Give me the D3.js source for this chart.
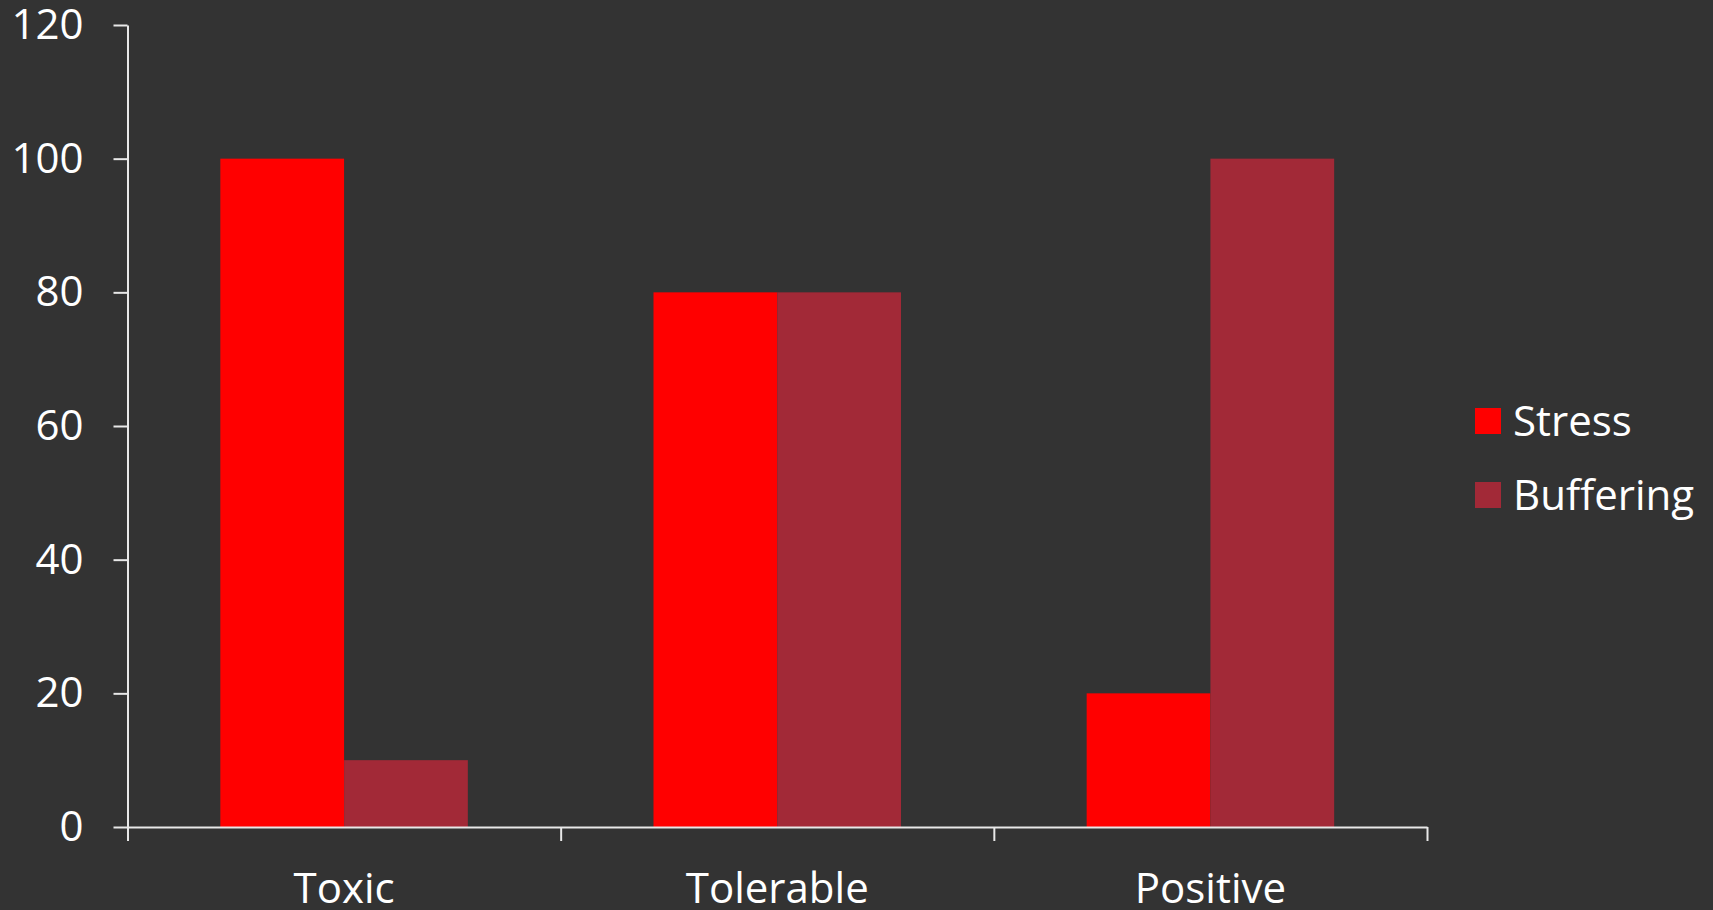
<!DOCTYPE html>
<html>
<head>
<meta charset="utf-8">
<script src="https://cdn.jsdelivr.net/npm/d3@7"></script>
<style>
  html, body { margin: 0; padding: 0; background: #333333; }
  svg { display: block; }
  text { font-family: "Open Sans", sans-serif; fill: #ffffff; }
</style>
</head>
<body>
<div id="chart"></div>
<script>
let categories = ["Toxic", "Tolerable", "Positive"];
let seriesNames = ["Stress", "Buffering"];
let stressValues = [100, 80, 20];
let bufferingValues = [10, 80, 100];
let yTicks = [0, 20, 40, 60, 80, 100, 120];

let width = 1713,
    height = 910,
    plotLeft = 127.5,
    plotRight = 1427,
    plotTop = 25,
    plotBottom = 827,
    fontSize = 42;

let colors = d3.scaleOrdinal()
    .domain(seriesNames)
    .range(["#ff0000", "#a22937"]);

let rows = categories.map(function(c, i) {
    return {cat: c, values: [
        {key: "Stress", value: stressValues[i]},
        {key: "Buffering", value: bufferingValues[i]}
    ]};
});

let x0 = d3.scaleBand()
    .domain(categories)
    .range([plotLeft, plotRight])
    .padding(0);

let x1 = d3.scaleBand()
    .domain(seriesNames)
    .range([0, x0.bandwidth()])
    .paddingInner(0)
    .paddingOuter(0.75);

let y = d3.scaleLinear()
    .domain([0, 120])
    .range([plotBottom, plotTop]);

let svg = d3.select("#chart").append("svg")
    .attr("width", width)
    .attr("height", height);

svg.append("rect")
    .attr("width", width)
    .attr("height", height)
    .attr("fill", "#333333");

// bars
let group = svg.selectAll(".group")
    .data(rows)
    .enter().append("g")
    .attr("class", "group")
    .attr("transform", function(d) { return "translate(" + x0(d.cat) + ",0)"; });

group.selectAll("rect")
    .data(function(d) { return d.values; })
    .enter().append("rect")
    .attr("x", function(d) { return x1(d.key); })
    .attr("y", function(d) { return y(d.value); })
    .attr("width", x1.bandwidth())
    .attr("height", function(d) { return plotBottom - y(d.value); })
    .attr("fill", function(d) { return colors(d.key); });

// y axis
svg.append("g")
    .attr("transform", "translate(" + plotLeft + ",0)")
    .call(d3.axisLeft(y).tickValues(yTicks).tickSize(14).tickPadding(30).tickSizeOuter(0));

// category boundary ticks
let xb = d3.scaleLinear().domain([0, categories.length]).range([plotLeft, plotRight]);
svg.append("g")
    .attr("transform", "translate(0," + plotBottom + ")")
    .call(d3.axisBottom(xb).tickValues(d3.range(categories.length + 1)).tickSize(14).tickFormat("").tickSizeOuter(0));

// category labels
let xLabelAxis = svg.append("g")
    .attr("transform", "translate(0," + plotBottom + ")")
    .call(d3.axisBottom(x0).tickSize(0).tickPadding(46));
xLabelAxis.select(".domain").remove();

svg.selectAll(".domain, .tick line")
    .attr("stroke", "#e8e8e8")
    .attr("stroke-width", 2);

svg.selectAll(".tick text")
    .style("font-size", fontSize + "px")
    .attr("fill", "#ffffff");

// legend
let legend = svg.selectAll(".legend")
    .data(seriesNames)
    .enter().append("g")
    .attr("class", "legend")
    .attr("transform", function(d, i) { return "translate(1475," + (408 + i * 74) + ")"; });

legend.append("rect")
    .attr("width", 26)
    .attr("height", 26)
    .attr("fill", function(d) { return colors(d); });

legend.append("text")
    .attr("x", 38)
    .attr("y", 13)
    .attr("dy", "0.35em")
    .style("font-size", fontSize + "px")
    .text(function(d) { return d; });
</script>
</body>
</html>
